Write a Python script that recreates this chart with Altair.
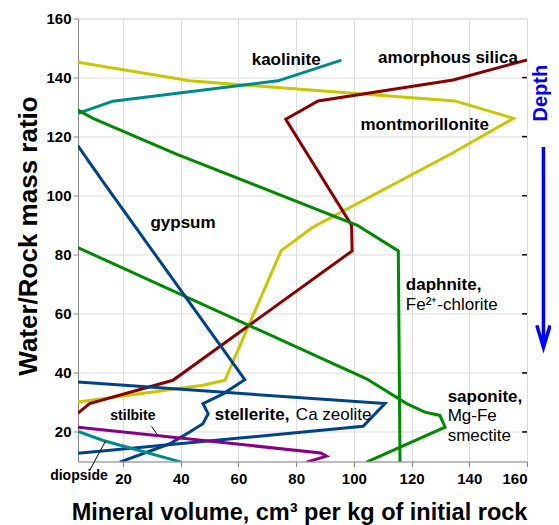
import altair as alt
import pandas as pd

# ---------------- data ----------------
montmorillonite_x = [4.4, 43.1, 88.2, 135.0, 155.3, 133.9, 85.9, 74.8, 55.3, 47.7, 4.4]
montmorillonite_y = [145.2, 138.9, 135.5, 132.1, 126.2, 114.3, 89.4, 81.4, 37.5, 35.8, 30.1]

silica_x = [160.0, 134.4, 87.6, 76.4, 99.2, 99.4, 37.3, 8.4, 4.4]
silica_y = [146.0, 139.2, 132.1, 125.9, 90.0, 81.3, 37.5, 29.6, 26.4]

kaolinite_x = [4.4, 16.5, 73.7, 95.7]
kaolinite_y = [127.9, 132.0, 138.9, 145.9]

daphnite_x = [4.4, 9.6, 38.5, 101.2, 115.4, 116.0]
daphnite_y = [129.0, 126.2, 114.1, 90.0, 81.3, 9.5]

saponite_x = [4.4, 104.4, 109.0, 118.3, 124.6, 129.8, 131.6, 104.4]
saponite_y = [82.4, 38.0, 35.2, 29.6, 26.7, 25.6, 21.6, 9.8]

gypsum_x = [4.4, 13.1, 62.2, 54.7, 47.7, 49.5, 47.7, 43.1, 36.2, 18.9]
gypsum_y = [116.9, 104.7, 37.7, 32.9, 29.6, 26.2, 22.8, 20.0, 16.0, 9.8]

stellerite_x = [4.4, 110.8, 103.2, 4.4]
stellerite_y = [36.9, 29.6, 21.9, 12.8]

stilbite_x = [4.4, 88.5, 90.5, 83.6]
stilbite_y = [21.6, 12.9, 11.8, 9.8]

diopside_x = [4.4, 13.1, 40.2]
diopside_y = [20.2, 17.1, 9.8]

series_names = ["montmorillonite", "amorphous silica", "kaolinite", "daphnite",
                "saponite", "gypsum", "stellerite", "stilbite", "diopside"]
series_xs = [montmorillonite_x, silica_x, kaolinite_x, daphnite_x, saponite_x,
             gypsum_x, stellerite_x, stilbite_x, diopside_x]
series_ys = [montmorillonite_y, silica_y, kaolinite_y, daphnite_y, saponite_y,
             gypsum_y, stellerite_y, stilbite_y, diopside_y]
series_colors = ["#c8c800", "#8b0000", "#008b8b", "#008a00", "#008a00",
                 "#00428c", "#00428c", "#880088", "#008b8b"]

x_ticks = [20, 40, 60, 80, 100, 120, 140, 160]
y_ticks = [20, 40, 60, 80, 100, 120, 140, 160]
right_ticks_y = [20, 40, 60, 80, 100, 120, 140]

# annotation labels (left edge x, baseline y)
bold_labels = ["kaolinite", "amorphous silica", "montmorillonite", "gypsum",
               "daphnite,", "saponite,", "stellerite,"]
bold_x = [64.6, 108.4, 102.3, 29.5, 118.0, 132.5, 51.8]
bold_y = [144.2, 145.0, 122.2, 89.1, 68.0, 30.1, 24.2]

plain_labels = ["Fe²⁺-chlorite", "Mg-Fe", "smectite", "Ca zeolite"]
plain_x = [118.0, 132.5, 132.5, 79.9]
plain_y = [61.2, 23.7, 17.1, 24.2]

small_labels = ["stilbite", "diopside"]
small_x = [15.6, 14.7]
small_y = [23.9, 3.8]

leader_names = ["stilbite", "stilbite", "diopside", "diopside"]
leader_x = [29.9, 32.2, 14.0, 8.4]
leader_y = [21.9, 18.6, 17.0, 6.9]

depth_label = "Depth"
depth_x = [164.8]
depth_y = [134.7]
arrow_part = ["shaft", "shaft", "head", "head", "head"]
arrow_x = [165.7, 165.7, 163.4, 165.7, 168.0]
arrow_y = [116.5, 49.5, 56.1, 48.6, 56.1]

# ---------------- build tables ----------------
rows = []
for name, xs, ys in zip(series_names, series_xs, series_ys):
    for i, (xv, yv) in enumerate(zip(xs, ys)):
        rows.append({"series": name, "x": xv, "y": yv, "i": i})
df_lines = pd.DataFrame(rows)

df_bold = pd.DataFrame({"x": bold_x, "y": bold_y, "t": bold_labels})
df_plain = pd.DataFrame({"x": plain_x, "y": plain_y, "t": plain_labels})
df_small_l = pd.DataFrame({"x": small_x[:1], "y": small_y[:1], "t": small_labels[:1]})
df_small_r = pd.DataFrame({"x": small_x[1:], "y": small_y[1:], "t": small_labels[1:]})
df_leader = pd.DataFrame({"g": leader_names, "x": leader_x, "y": leader_y,
                          "i": list(range(len(leader_x)))})
df_depth = pd.DataFrame({"x": depth_x, "y": depth_y, "t": [depth_label]})
df_arrow = pd.DataFrame({"g": arrow_part, "x": arrow_x, "y": arrow_y,
                         "i": list(range(len(arrow_x)))})
df_rt = pd.DataFrame({"y": right_ticks_y, "x": [158.3] * len(right_ticks_y),
                      "x2": [160.0] * len(right_ticks_y)})

FONT = "Liberation Sans"

xscale = alt.Scale(domain=[4.4, 160], nice=False, zero=False)
yscale = alt.Scale(domain=[10, 160], nice=False, zero=False)

x_axis = alt.Axis(values=x_ticks, title="Mineral volume, cm³ per kg of initial rock",
                  labelFontSize=15, labelFontWeight="bold", labelPadding=5,
                  titleFontSize=23.5, titleFontWeight="bold", titleY=58, titleX=221,
                  titleAlign="center", titleBaseline="alphabetic")
y_axis = alt.Axis(values=y_ticks, title="Water/Rock mass ratio",
                  labelFontSize=15, labelFontWeight="bold", labelPadding=2,
                  titleFontSize=26, titleFontWeight="bold", titleAngle=270,
                  titleX=-50, titleY=217, titleAlign="center",
                  titleBaseline="middle")

X = alt.X("x:Q", scale=xscale, axis=x_axis)
Y = alt.Y("y:Q", scale=yscale, axis=y_axis)

lines = alt.Chart(df_lines).mark_line(strokeWidth=3, clip=True).encode(
    x=X, y=Y,
    color=alt.Color("series:N", scale=alt.Scale(domain=series_names, range=series_colors),
                    legend=None),
    detail="series:N",
    order="i:Q",
)

right_ticks = alt.Chart(df_rt).mark_rule(color="black", strokeWidth=1.5).encode(
    x=X, x2="x2:Q", y=Y)

bold_text = alt.Chart(df_bold).mark_text(
    font=FONT, fontSize=17, fontWeight="bold", align="left", baseline="alphabetic",
    color="black").encode(x=X, y=Y, text="t:N")

plain_text = alt.Chart(df_plain).mark_text(
    font=FONT, fontSize=17, align="left", baseline="alphabetic",
    color="black").encode(x=X, y=Y, text="t:N")

small_text_l = alt.Chart(df_small_l).mark_text(
    font=FONT, fontSize=14, fontWeight="bold", align="left", baseline="alphabetic",
    color="black").encode(x=X, y=Y, text="t:N")
small_text_r = alt.Chart(df_small_r).mark_text(
    font=FONT, fontSize=14, fontWeight="bold", align="right", baseline="alphabetic",
    color="black").encode(x=X, y=Y, text="t:N")

leaders = alt.Chart(df_leader).mark_line(color="black", strokeWidth=1).encode(
    x=X, y=Y, detail="g:N", order="i:Q")

depth_text = alt.Chart(df_depth).mark_text(
    font=FONT, fontSize=20, fontWeight="bold", angle=270, align="center",
    baseline="middle", color="#0000ff").encode(x=X, y=Y, text="t:N")

arrow = alt.Chart(df_arrow).mark_line(color="#0000ff", strokeWidth=3.5).encode(
    x=X, y=Y, detail="g:N", order="i:Q")

chart = alt.layer(
    lines, right_ticks, leaders, bold_text, plain_text, small_text_l, small_text_r,
    depth_text, arrow
).properties(
    width=449, height=443,
    autosize=alt.AutoSizeParams(type="none"),
    padding={"left": 70, "top": 10.5, "right": 24, "bottom": 63.5},
).configure_view(
    stroke="black", strokeWidth=2, fill="#e0e0e0"
).configure_axis(
    labelFont=FONT, titleFont=FONT, labelColor="black", titleColor="black",
    tickColor="black", tickSize=5, tickWidth=1.5, domain=False, grid=False,
).configure(font=FONT)

chart.save("out.html", embed_options={"renderer": "svg", "actions": False})
